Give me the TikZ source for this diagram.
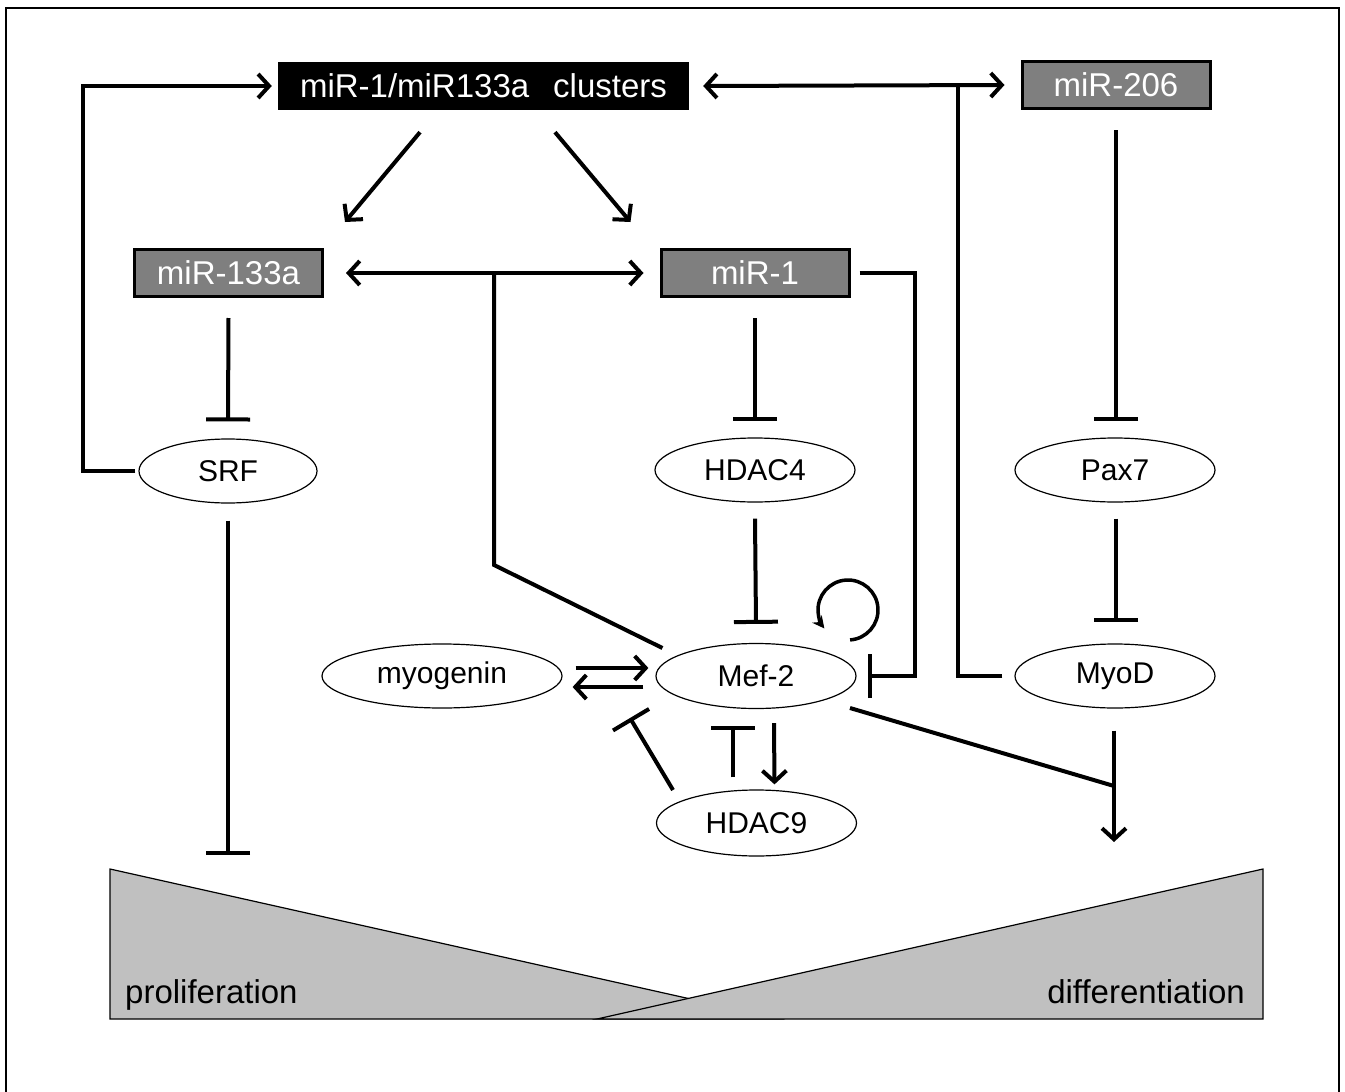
\documentclass[tikz,border=0pt]{standalone}
\usepackage{fontspec}
\setmainfont{Liberation Sans}
\usetikzlibrary{arrows.meta,calc,shapes.geometric}
\definecolor{boxgray}{HTML}{7F7F7F}
\definecolor{trigray}{HTML}{C0C0C0}
\tikzset{
  conn/.style={line width=4pt},
  arr/.style={conn, -{Straight Barb[length=11pt,width=24pt]}},
  darr/.style={conn, {Straight Barb[length=11pt,width=24pt]}-{Straight Barb[length=11pt,width=24pt]}},
  inh/.style={conn, -{Bar[width=44pt]}},
  blackbox/.style={fill=black, text=white, minimum width=411pt, minimum height=48pt, inner sep=0pt, font=\fontsize{33}{38}\selectfont},
  graybox/.style={fill=boxgray, draw=black, line width=3pt, text=white, minimum width=188pt, minimum height=47pt, inner sep=0pt, font=\fontsize{33}{38}\selectfont},
  oval/.style={ellipse, draw, line width=1.2pt, minimum width=200pt, minimum height=64pt, inner sep=0pt, font=\fontsize{30}{34}\selectfont},
  tri/.style={fill=trigray, draw=black, line width=1.2pt},
  lbl/.style={inner sep=0pt, font=\fontsize{33}{38}\selectfont},
}
\begin{document}
\begin{tikzpicture}[x=1pt,y=-1pt]
\useasboundingbox (0,0) rectangle (1345,1092);
% frame
\draw[line width=1.5pt] (6,1092) -- (6,8) -- (1339,8) -- (1339,1092);

% bottom triangles
\draw[tri] (110,869) -- (780,1019) -- (110,1019) -- cycle;
\draw[tri] (1263,869) -- (1263,1019) -- (597,1019) -- cycle;
\node[lbl, anchor=base west] (prolif) at (125,1003) {proliferation};
\node[lbl, anchor=base east] (diff) at (1245,1003) {differentiation};

% boxes
\node[blackbox] (clusters) at (483.5,86) {miR-1/miR133a\hspace{0.45em} clusters};
\node[graybox] (mir206) at (1116,85) {miR-206};
\node[graybox] (mir133a) at (228.5,273) {miR-133a};
\node[graybox] (mir1) at (755,273) {miR-1};

% ellipses
\node[oval, minimum width=178pt] (srf) at (228,471) {SRF};
\node[oval] (hdac4) at (755,470) {HDAC4};
\node[oval] (pax7) at (1115,470) {Pax7};
\node[oval, minimum height=65pt] (mef2) at (756,676) {Mef-2};
\node[oval, minimum width=240pt] (myogenin) at (442,676) {myogenin};
\node[oval] (myod) at (1115,676) {MyoD};
\node[oval, minimum height=66pt] (hdac9) at (756.5,823) {HDAC9};

% coordinates
\coordinate (j1) at (958,85);
\coordinate (j2) at (494,273);
\coordinate (p1) at (228,855);
\coordinate (d1) at (1114,842);
\coordinate (dj) at (1114,786);
\coordinate (loopc) at ($(mef2.center)+(92,-66)$);

% connectors
\draw[arr] ([xshift=-3pt]srf.west) -- ++(-52,0) |- ([xshift=-6pt]clusters.west);
\draw[darr] ([xshift=14pt]clusters.east) -- ([xshift=-16pt]mir206.west);
\draw[conn] ([xshift=-12pt]myod.west) -| (j1);
\draw[arr] ($(clusters.south)+(-63.5,22)$) -- ($(mir133a.north east)+(21,-26)$);
\draw[arr] ($(clusters.south)+(71.5,22)$) -- ($(mir1.north west)+(-29,-26)$);
\draw[darr] ($(mir133a.east)+(22,0)$) -- ($(mir1.west)+(-16,0)$);
\draw[conn] (j2) -- (494,565) -- ($(mef2.west)+(7,-28)$);
\draw[inh] ($(mir1.east)+(9,0)$) -| (915,676) -- ($(mef2.east)+(11,0)$);
\draw[inh] ($(mir133a.south)+(0,20)$) -- ($(srf.north)+(0,-17)$);
\draw[inh] ($(srf.south)+(0,17)$) -- (p1);
\draw[inh] ($(mir1.south)+(0,20)$) -- ($(hdac4.north)+(0,-16)$);
\draw[inh] ($(hdac4.south)+(0,16)$) -- ($(mef2.north)+(0,-19)$);
\draw[inh] ($(mir206.south)+(0,20)$) -- ($(pax7.north)+(1,-16)$);
\draw[inh] ($(pax7.south)+(1,16)$) -- ($(myod.north)+(1,-21)$);
\draw[arr] ($(myod.south)+(-1,22)$) -- (d1);
\draw[conn] ($(mef2.center)+(94,32)$) -- (dj);
\draw[arr] ($(myogenin.east)+(13,-8)$) -- ($(mef2.west)+(-7,-8)$);
\draw[arr] ($(mef2.west)+(-12,11)$) -- ($(myogenin.east)+(10,11)$);
\draw[conn, -{Bar[width=42pt]}] ($(hdac9.center)+(-83.5,-33)$) -- ($(mef2.center)+(-126,42)$);
\draw[inh] ($(hdac9.north)+(-23.5,-12)$) -- ($(mef2.south)+(-23,17)$);
\draw[arr] ($(mef2.south)+(18,14)$) -- ($(hdac9.north)+(18,-5)$);
\draw[line width=3.5pt, -{Stealth[length=12pt,width=12pt]}] ($(loopc)+(86:30)$) arc[start angle=86, end angle=-218, radius=30];
\end{tikzpicture}
\end{document}
